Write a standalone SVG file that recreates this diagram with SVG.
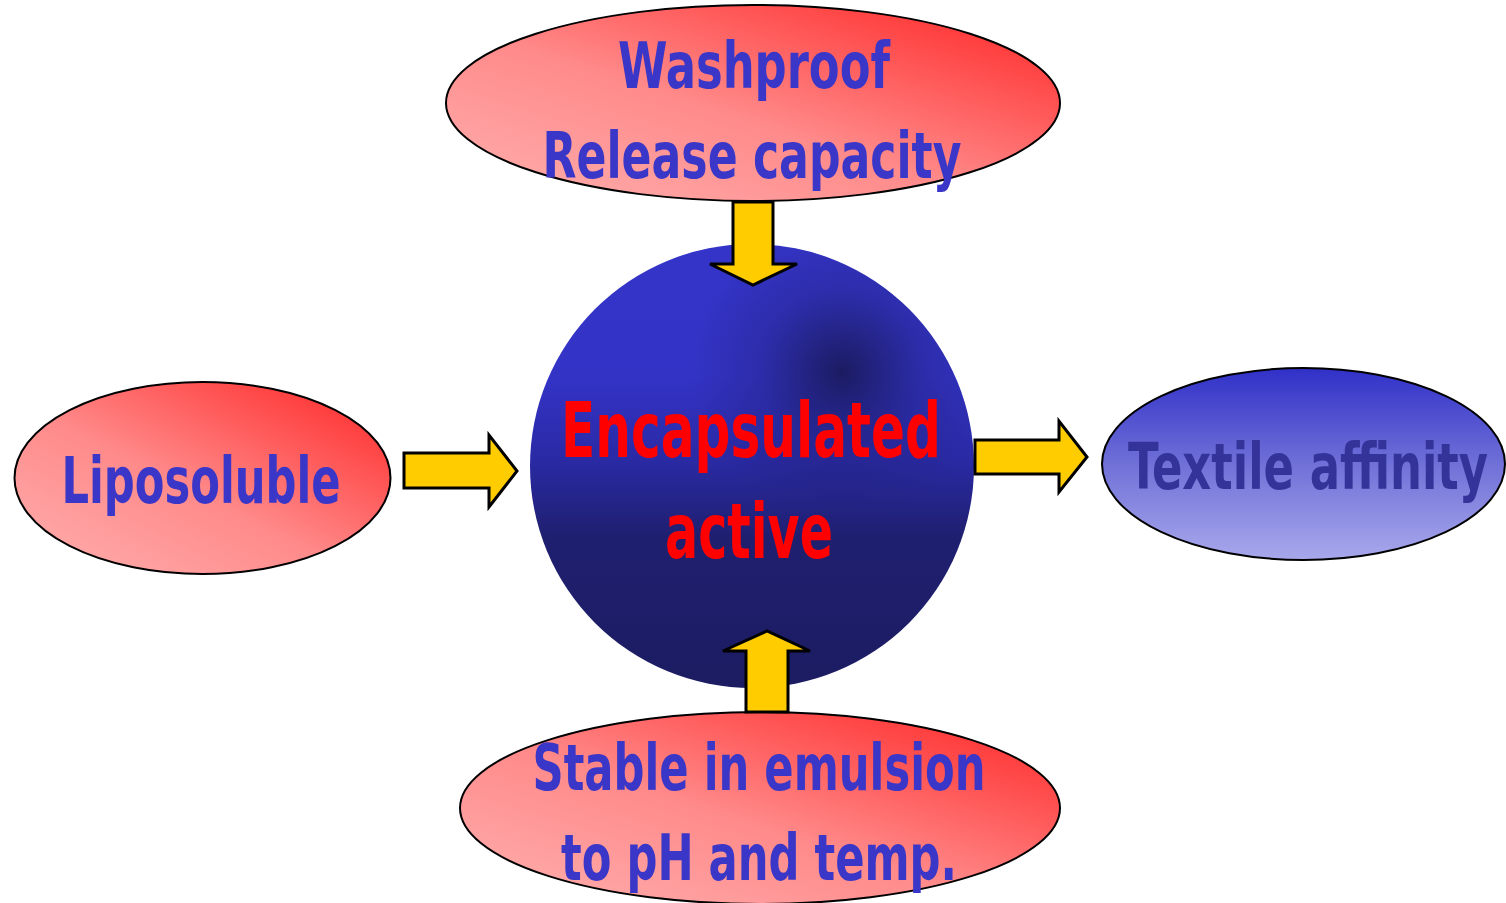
<svg xmlns="http://www.w3.org/2000/svg" width="1506" height="903" viewBox="0 0 1506 903">
<defs>
<linearGradient id="red" x1="0" y1="1" x2="1" y2="0">
<stop offset="0" stop-color="#FFB0B0"/>
<stop offset="0.45" stop-color="#FF8A8A"/>
<stop offset="1" stop-color="#FF2222"/>
</linearGradient>
<linearGradient id="blueEl" x1="0" y1="0" x2="0" y2="1">
<stop offset="0" stop-color="#3030C8"/>
<stop offset="0.5" stop-color="#7070D8"/>
<stop offset="1" stop-color="#A8A8EC"/>
</linearGradient>
<linearGradient id="sph" x1="0" y1="0" x2="0" y2="1">
<stop offset="0" stop-color="#3434C8"/>
<stop offset="0.3" stop-color="#3333C6"/>
<stop offset="0.48" stop-color="#2A2AA6"/>
<stop offset="0.66" stop-color="#1F1F70"/>
<stop offset="1" stop-color="#1C1C62"/>
</linearGradient>
<radialGradient id="spot" cx="842" cy="372" r="150" gradientUnits="userSpaceOnUse">
<stop offset="0" stop-color="#1A1A5C" stop-opacity="0.95"/>
<stop offset="0.2" stop-color="#1C1C66" stop-opacity="0.75"/>
<stop offset="0.55" stop-color="#1E1E6C" stop-opacity="0.3"/>
<stop offset="1" stop-color="#1E1E6C" stop-opacity="0"/>
</radialGradient>
<style>
.el{stroke:#000;stroke-width:2}
.arr{fill:#FFCC00;stroke:#000;stroke-width:3;stroke-linejoin:miter}
.t{font-family:"Comic Sans MS","DejaVu Sans Condensed","DejaVu Sans",sans-serif;font-weight:bold;text-anchor:middle}
.b{fill:#3A36C8;font-size:64px}
.d{fill:#333399;font-size:64px}
.r{fill:#FF0000;font-size:76px}
</style>
</defs>
<g id="node-sphere">
<circle cx="752" cy="466" r="222" fill="url(#sph)"/>
<circle cx="752" cy="466" r="222" fill="url(#spot)"/>
<text class="t r" x="751" y="457" textLength="380" lengthAdjust="spacingAndGlyphs">Encapsulated</text>
<text class="t r" x="749" y="558" textLength="168" lengthAdjust="spacingAndGlyphs">active</text>
</g>
<g id="node-top">
<ellipse class="el" cx="753" cy="103" rx="307" ry="98" fill="url(#red)"/>
<text class="t b" x="754" y="88" textLength="272" lengthAdjust="spacingAndGlyphs">Washproof</text>
<text class="t b" x="752" y="178" textLength="419" lengthAdjust="spacingAndGlyphs">Release capacity</text>
</g>
<g id="node-left">
<ellipse class="el" cx="202.5" cy="478" rx="188" ry="96" fill="url(#red)"/>
<text class="t b" x="201" y="503" textLength="279" lengthAdjust="spacingAndGlyphs">Liposoluble</text>
</g>
<g id="node-right">
<ellipse class="el" cx="1303.5" cy="464" rx="201.5" ry="96" fill="url(#blueEl)"/>
<text class="t d" transform="translate(1308,489) scale(0.76,1)" x="0" y="0" textLength="474" lengthAdjust="spacingAndGlyphs">Textile affinity</text>
</g>
<g id="node-bottom">
<ellipse class="el" cx="760" cy="808" rx="300" ry="96" fill="url(#red)"/>
<text class="t b" x="759" y="790" textLength="453" lengthAdjust="spacingAndGlyphs">Stable in emulsion</text>
<text class="t b" x="759" y="880" textLength="396" lengthAdjust="spacingAndGlyphs">to pH and temp.</text>
</g>
<g id="connectors">
<polygon class="arr" points="733,202 773,202 773,264 797,264 753,285 710,264 733,264"/>
<polygon class="arr" points="404,453 489,453 489,435 517,471 489,507 489,488 404,488"/>
<polygon class="arr" points="975,440 1059,440 1059,421 1087,457 1059,492 1059,474 975,474"/>
<polygon class="arr" points="746,712 788,712 788,651 810,651 767,631 723,651 746,651"/>
</g>
</svg>
